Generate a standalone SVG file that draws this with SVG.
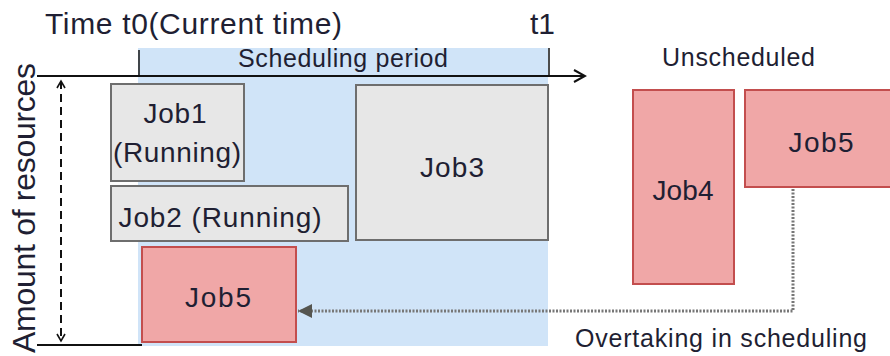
<svg xmlns="http://www.w3.org/2000/svg" width="890" height="356" viewBox="0 0 890 356">
  <style>
    text { font-family: "Liberation Sans", Arial, sans-serif; fill: #1f1f33; }
    .lbl { font-size: 28px; text-anchor: middle; }
    .cap { font-size: 25px; }
    .run { fill: #e7e7e7; stroke: #6e6e6e; stroke-width: 2; }
    .wait { fill: #f0a7a7; stroke: #c34e4e; stroke-width: 2; }
    .axis { stroke: #111; stroke-width: 2; fill: none; }
  </style>
  <defs>
    <marker id="open" markerWidth="14" markerHeight="14" refX="12" refY="7" orient="auto" markerUnits="userSpaceOnUse">
      <path d="M1,1 L12,7 L1,13" fill="none" stroke="#111" stroke-width="2"/>
    </marker>
    <marker id="small" markerWidth="10" markerHeight="10" refX="8" refY="5" orient="auto-start-reverse" markerUnits="userSpaceOnUse">
      <path d="M1,1 L8,5 L1,9" fill="none" stroke="#111" stroke-width="1.6"/>
    </marker>
    <marker id="tri" markerWidth="16" markerHeight="14" refX="14" refY="7" orient="auto" markerUnits="userSpaceOnUse">
      <path d="M0,0 L14,7 L0,14 Z" fill="#555550"/>
    </marker>
  </defs>

  <!-- scheduling window -->
  <rect x="138" y="48" width="410" height="298" fill="#d0e4f8"/>

  <!-- axes and scale -->
  <g id="axes">
    <line class="axis" x1="37" y1="76" x2="585" y2="76" marker-end="url(#open)"/>
    <line class="axis" x1="37" y1="345" x2="142" y2="345"/>
    <line x1="139" y1="50" x2="139" y2="76" stroke="#111" stroke-width="1.5"/>
    <line x1="549" y1="48" x2="549" y2="76" stroke="#111" stroke-width="1.5"/>
    <line x1="61" y1="81" x2="61" y2="341" stroke="#111" stroke-width="2" stroke-dasharray="8,5" marker-start="url(#small)" marker-end="url(#small)"/>
  </g>

  <text x="45" y="34" font-size="30" textLength="297">Time t0(Current time)</text>
  <text x="530" y="34" font-size="30">t1</text>
  <text class="cap" x="238" y="67" textLength="210">Scheduling period</text>
  <text class="cap" x="662" y="66" textLength="153">Unscheduled</text>
  <text class="cap" x="575" y="347" font-size="26" textLength="292">Overtaking in scheduling</text>
  <text transform="translate(35,208) rotate(-90)" font-size="32" text-anchor="middle" textLength="290">Amount of resources</text>

  <!-- connectors -->
  <g id="connectors">
    <polyline points="793,189 793,311 298,311" fill="none" stroke="#777" stroke-width="3" stroke-dasharray="2,1.5" marker-end="url(#tri)"/>
  </g>

  <!-- jobs -->
  <g id="job1">
    <rect class="run" x="111" y="84" width="133" height="97"/>
    <text class="lbl" x="175" y="123" textLength="63">Job1</text>
    <text class="lbl" x="177" y="162" textLength="128">(Running)</text>
  </g>
  <g id="job2">
    <rect class="run" x="111" y="186" width="237" height="55"/>
    <text class="lbl" x="220" y="227" textLength="203">Job2 (Running)</text>
  </g>
  <g id="job3">
    <rect class="run" x="356" y="85" width="192" height="155"/>
    <text class="lbl" x="452" y="177" textLength="64">Job3</text>
  </g>
  <g id="job5-scheduled">
    <rect class="wait" x="142" y="247" width="154" height="95"/>
    <text class="lbl" x="218" y="307" textLength="66">Job5</text>
  </g>
  <g id="job4">
    <rect class="wait" x="633" y="90" width="101" height="194"/>
    <text class="lbl" x="683" y="200" textLength="61">Job4</text>
  </g>
  <g id="job5-unscheduled">
    <rect class="wait" x="745" y="90" width="150" height="97"/>
    <text class="lbl" x="821" y="152" textLength="65">Job5</text>
  </g>
</svg>
